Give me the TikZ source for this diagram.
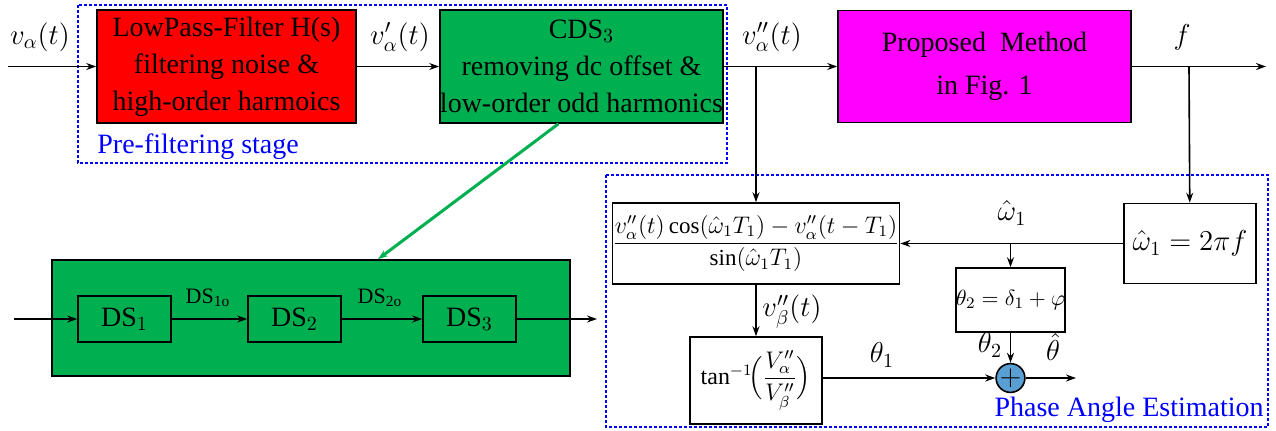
\documentclass[tikz,border=0pt]{standalone}
\usepackage{amsmath}
\usepackage{fontspec}
\setmainfont{Liberation Serif}
\usepackage{tikz}
\usetikzlibrary{arrows.meta}

\definecolor{boxred}{HTML}{FF0000}
\definecolor{boxgreen}{HTML}{00B050}
\definecolor{boxmag}{HTML}{FF00FF}
\definecolor{sumblue}{HTML}{5A9FD4}

\tikzset{
    blk/.style={draw, line width=0.8pt, align=center, inner sep=0pt},
    stage/.style={blue, line width=0.7pt, dash pattern=on 1.5pt off 1pt},
    sig/.style={line width=0.8pt},
    lbl/.style={inner sep=1pt},
}

\begin{document}
\begin{tikzpicture}[x=0.5pt, y=-0.5pt, >={Stealth[length=5pt,width=3.5pt]},
    font=\fontsize{14}{18.5}\selectfont]
    \useasboundingbox (0,0) rectangle (1276,430);

    % Pre-filtering stage
    \draw[stage] (78,5) rectangle (727,163);
    \node[lbl, blue, anchor=west] (pfs) at (95,147) {Pre-filtering stage};
    \node[blk, fill=boxred, minimum width=129.5pt, minimum height=56.5pt] (lpf) at (226.5,66.5)
        {LowPass-Filter H(s)\\ filtering noise \&\\ high-order harmoics};
    \node[blk, fill=boxgreen, minimum width=138.5pt, minimum height=56.5pt] (cds) at (581.5,66.5)
        {CDS$_3$\\ removing dc offset \&\\ low-order odd harmonics};
    \node[blk, fill=boxmag, minimum width=146.5pt, minimum height=56pt] (pm) at (984.5,66.5)
        {Proposed\ \ Method\\[3pt] in Fig. 1};

    \coordinate (in) at (8,66.5);
    \coordinate (fout) at (1266,66.5);
    \coordinate (b1) at (756,66.5);
    \coordinate (b2) at (1189,66.5);
    \draw[sig,->] (in) -- (lpf);
    \draw[sig,->] (lpf) -- (cds);
    \draw[sig,->] (cds) -- (pm);
    \draw[sig,->] (pm) -- (fout);
    \node[lbl] (va) at (40,37) {$v_\alpha(t)$};
    \node[lbl] (va1) at (400,37) {$v'_\alpha(t)$};
    \node[lbl] (va2) at (772,37) {$v''_\alpha(t)$};
    \node[lbl] (f) at (1182,37) {$f$};

    % CDS detail
    \node[blk, fill=boxgreen, minimum width=259pt, minimum height=58pt] (cdsbig) at (311,318) {};
    \node[blk, minimum width=46.5pt, minimum height=23pt] (ds1) at (124.5,319) {DS$_1$};
    \node[blk, minimum width=46.5pt, minimum height=23pt] (ds2) at (294.5,319) {DS$_2$};
    \node[blk, minimum width=46.5pt, minimum height=23pt] (ds3) at (469.5,319) {DS$_3$};
    \coordinate (dsin) at (14,319);
    \coordinate (dsout) at (597,319);
    \draw[sig,->] (dsin) -- (ds1);
    \draw[sig,->] (ds1) -- (ds2);
    \draw[sig,->] (ds2) -- (ds3);
    \draw[sig,->] (ds3) -- (dsout);
    \node[lbl, font=\fontsize{11}{13}\selectfont] (ds1o) at (208,298) {DS$_{\mathrm{1o}}$};
    \node[lbl, font=\fontsize{11}{13}\selectfont] (ds2o) at (380,298) {DS$_{\mathrm{2o}}$};
    \draw[boxgreen, line width=1.5pt, ->] ([xshift=-11.5pt]cds.south) -- ([xshift=33.5pt]cdsbig.north);

    % Phase angle estimation
    \draw[stage] (606,175) rectangle (1268,427);
    \node[lbl, blue, anchor=east] (pae) at (1266,410) {Phase Angle Estimation};
    \node[blk, minimum width=142pt, minimum height=40.5pt, font=\fontsize{11.5}{14}\selectfont] (frac) at (756,243.5)
        {$\dfrac{v''_\alpha(t)\cos(\hat{\omega}_1T_1)-v''_\alpha(t-T_1)}{\sin(\hat{\omega}_1T_1)}$};
    \node[blk, minimum width=66pt, minimum height=40pt] (w) at (1190,243.5) {$\hat{\omega}_1=2\pi f$};
    \node[blk, minimum width=52.5pt, minimum height=32pt, font=\fontsize{11}{13}\selectfont] (th2) at (1010.5,300)
        {$\theta_2=\delta_1+\varphi$};
    \node[blk, minimum width=66pt, minimum height=43.5pt, font=\fontsize{12}{14}\selectfont] (tan) at (756,380.5)
        {$\tan^{-1}\!\Bigl(\dfrac{V''_\alpha}{V''_\beta}\Bigr)$};
    \node[draw, circle, line width=0.8pt, fill=sumblue, minimum size=12pt, inner sep=0pt] (sum) at (1010.5,378) {$+$};
    \coordinate (b3) at (1010.5,243.5);
    \coordinate (thout) at (1076,378);

    \draw[sig,->] (b1) -- (frac);
    \draw[sig,->] (b2) -- (w);
    \draw[sig,->] (w) -- (frac);
    \draw[sig,->] (b3) -- (th2);
    \draw[sig,->] (th2) -- (sum);
    \draw[sig,->] (frac) -- (tan);
    \draw[sig,->] (sum.west -| tan.east) -- (sum.west);
    \draw[sig,->] (sum) -- (thout);
    \node[lbl] (wlbl) at (1012,213) {$\hat{\omega}_1$};
    \node[lbl] (vb) at (792,312) {$v''_\beta(t)$};
    \node[lbl] (th2lbl) at (990,345) {$\theta_2$};
    \node[lbl] (th1lbl) at (882,355) {$\theta_1$};
    \node[lbl] (thhat) at (1053,347) {$\hat{\theta}$};
\end{tikzpicture}
\end{document}
